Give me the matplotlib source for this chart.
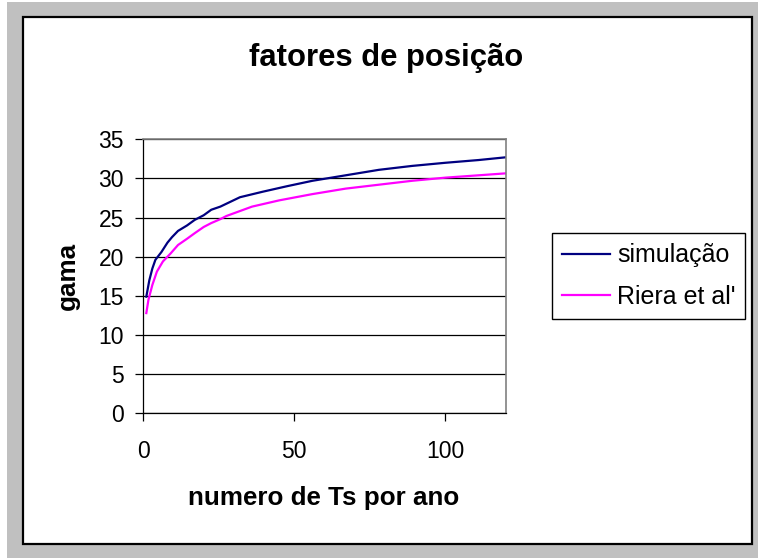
import matplotlib.pyplot as plt
from matplotlib.patches import Rectangle

plt.rcParams['font.family'] = ['Liberation Sans', 'DejaVu Sans']

# values
sim_x = [1, 2, 3, 4, 6, 8, 9.5, 11.5, 14.5, 17, 20, 22.5, 25.5, 32, 39.5,
         47.5, 56, 67, 78, 89, 100, 111, 120]
sim_y = [14.9, 17.0, 18.5, 19.6, 20.6, 21.8, 22.5, 23.3, 24.0, 24.7, 25.3,
         26.0, 26.4, 27.6, 28.3, 29.0, 29.7, 30.4, 31.1, 31.6, 32.0, 32.35, 32.7]

riera_x = [1, 1.7, 3, 4.5, 6.5, 9, 11.5, 14.5, 17, 20, 22.5, 25.5, 27.5, 36,
           45, 56, 67, 78, 89, 100, 111, 120]
riera_y = [12.8, 14.5, 16.4, 18.1, 19.4, 20.4, 21.5, 22.3, 23.0, 23.8, 24.3,
           24.8, 25.2, 26.4, 27.2, 28.0, 28.7, 29.2, 29.7, 30.1, 30.4, 30.65]

y_ticks = [0, 5, 10, 15, 20, 25, 30, 35]
x_ticks = [0, 50, 100]

W, H = 758, 558
fig = plt.figure(figsize=(W / 100, H / 100), dpi=100, facecolor='white')

# gray outer frame + white chart area with black border
fig.patches.append(Rectangle((7 / W, 0), 1 - 7 / W, 1 - 2 / H, transform=fig.transFigure,
                             facecolor='#c0c0c0', edgecolor='none', zorder=0))
fig.patches.append(Rectangle((23 / W, 1 - 544 / H), (752 - 23) / W, (544 - 17) / H,
                             transform=fig.transFigure, facecolor='white',
                             edgecolor='black', linewidth=1.6, zorder=1))

ax = fig.add_axes([143.3 / W, 1 - 413.3 / H, 362.4 / W, 274 / H])
ax.set_zorder(2)

ax.plot(sim_x, sim_y, color='#000080', linewidth=1.6, label='simulação')
ax.plot(riera_x, riera_y, color='#ff00ff', linewidth=1.6, label="Riera et al'")

ax.set_xlim(0, 120)
ax.set_ylim(0, 35)
ax.set_xticks(x_ticks)
ax.set_yticks(y_ticks)
ax.yaxis.grid(True, color='black', linewidth=0.9)
ax.set_axisbelow(True)

for side in ['top', 'right']:
    ax.spines[side].set_color('#808080')
    ax.spines[side].set_linewidth(1.2)
for side in ['left', 'bottom']:
    ax.spines[side].set_color('black')
    ax.spines[side].set_linewidth(0.9)

ax.tick_params(axis='y', direction='out', length=6, width=0.9, pad=8, labelsize=16.5)
ax.tick_params(axis='x', direction='out', length=6, width=0.9, pad=13, labelsize=16.5)

fig.text(386 / W, 1 - 65.7 / H, 'fatores de posição', ha='center', va='baseline',
         fontsize=22.3, fontweight='bold')
fig.text(323.5 / W, 1 - 505 / H, 'numero de Ts por ano', ha='center', va='baseline',
         fontsize=18.7, fontweight='bold')
fig.text(68 / W, 1 - 276 / H, 'gama', ha='center', va='center', rotation=90,
         fontsize=18.7, fontweight='bold')

leg = fig.legend(loc='upper left', bbox_to_anchor=(551.7 / W, 1 - 233.3 / H),
                 bbox_transform=fig.transFigure, fontsize=18, frameon=True,
                 fancybox=False, edgecolor='black', framealpha=1,
                 handlelength=1.95, handletextpad=0.26, borderpad=0.4,
                 labelspacing=0.7, borderaxespad=0)
leg.get_frame().set_linewidth(1.0)
leg.set_zorder(3)

fig.savefig('out.png', dpi=100, facecolor=fig.get_facecolor())
